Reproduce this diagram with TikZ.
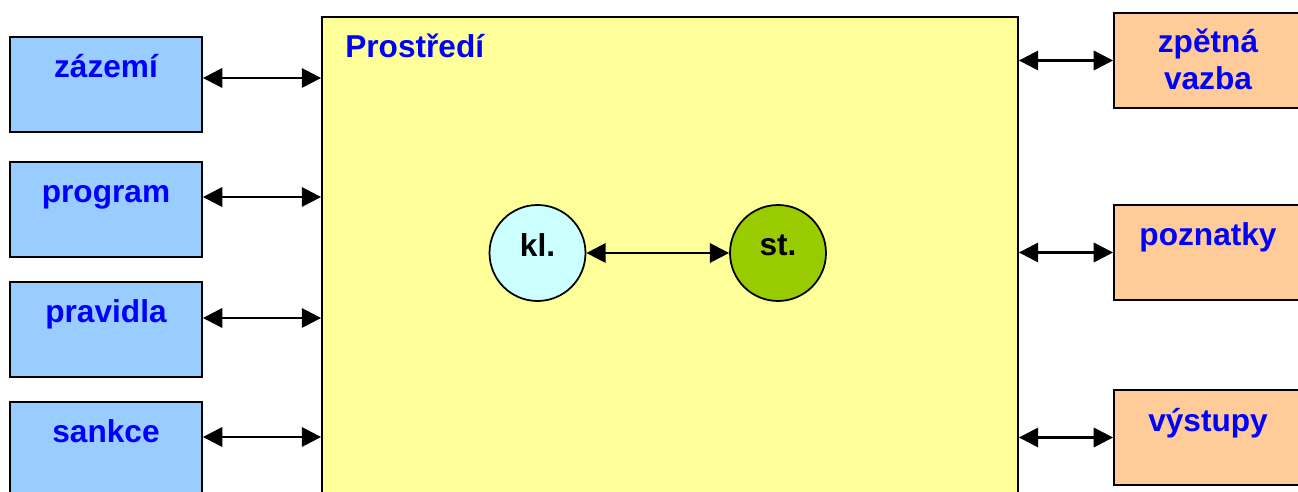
\documentclass[tikz,border=0pt]{standalone}
\usepackage{fontspec}
\setmainfont{Liberation Sans}
\usepackage{xcolor}
\usetikzlibrary{arrows.meta,positioning}

\definecolor{inblue}{HTML}{99CCFF}
\definecolor{outpeach}{HTML}{FFCC99}
\definecolor{envyellow}{HTML}{FFFF99}
\definecolor{klcyan}{HTML}{CCFFFF}
\definecolor{stgreen}{HTML}{99CC00}
\definecolor{labelblue}{HTML}{0000FF}

\begin{document}
\begin{tikzpicture}[x=0.02cm, y=-0.02cm,
    inbox/.style={rectangle, draw, line width=1.1pt, fill=inblue, minimum width=3.84cm, minimum height=1.9cm},
    outbox/.style={rectangle, draw, line width=1.1pt, fill=outpeach, minimum width=3.76cm, minimum height=1.9cm},
    envbox/.style={rectangle, draw, line width=1.1pt, fill=envyellow, minimum width=13.92cm, minimum height=10.06cm},
    boxtext/.style={anchor=base, align=center, text=labelblue, font=\bfseries\fontsize{18}{21}\selectfont},
    role/.style={circle, draw, line width=1pt, minimum size=1.92cm, text depth=0.3cm, font=\bfseries\fontsize{18}{21}\selectfont},
    link/.style={{Triangle[length=11pt,width=11pt]}-{Triangle[length=11pt,width=11pt]}, line width=1.4pt}
]
    \path[use as bounding box] (0,0) rectangle (1298,492);
    \clip (0,0) rectangle (1298,492);

    % environment
    \node[envbox] (env) at (670,268.5) {};
    \node[anchor=base west, text=labelblue, font=\bfseries\fontsize{18}{21}\selectfont] (env-t)
        at ([xshift=0.36cm, yshift=-0.82cm]env.north west) {Prostředí};

    % inputs
    \node[inbox] (zazemi) at (106,84.5) {};
    \node[inbox] (program) at (106,209.5) {};
    \node[inbox] (pravidla) at (106,329.5) {};
    \node[inbox] (sankce) at (106,449.5) {};
    \node[boxtext] (zazemi-t) at ([yshift=-0.82cm]zazemi.north) {zázemí};
    \node[boxtext] (program-t) at ([yshift=-0.82cm]program.north) {program};
    \node[boxtext] (pravidla-t) at ([yshift=-0.82cm]pravidla.north) {pravidla};
    \node[boxtext] (sankce-t) at ([yshift=-0.82cm]sankce.north) {sankce};

    % outputs
    \node[outbox] (zpetna) at (1208,60.5) {};
    \node[outbox] (poznatky) at (1208,252.5) {};
    \node[outbox] (vystupy) at (1208,437.5) {};
    \node[boxtext] (zpetna-t) at ([yshift=-1.54cm]zpetna.north) {zpětná\\vazba};
    \node[boxtext] (poznatky-t) at ([yshift=-0.82cm]poznatky.north) {poznatky};
    \node[boxtext] (vystupy-t) at ([yshift=-0.84cm]vystupy.north) {výstupy};

    % actors
    \node[role, fill=klcyan] (kl) at (537.5,253) {kl.};
    \node[role, fill=stgreen] (st) at (778,253) {st.};

    \draw[link] (kl) -- (st);
    \draw[link] (zazemi.east |- 0,78) -- (env.west |- 0,78);
    \draw[link] (program.east |- 0,197) -- (env.west |- 0,197);
    \draw[link] (pravidla.east |- 0,318) -- (env.west |- 0,318);
    \draw[link] (sankce.east |- 0,437) -- (env.west |- 0,437);
    \draw[link] (env.east |- zpetna) -- (zpetna.west);
    \draw[link] (env.east |- poznatky) -- (poznatky.west);
    \draw[link] (env.east |- vystupy) -- (vystupy.west);
\end{tikzpicture}
\end{document}
